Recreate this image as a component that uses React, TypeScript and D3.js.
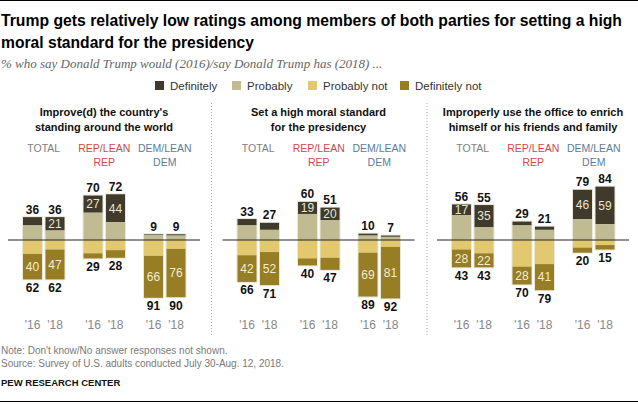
import React from "react";
import * as d3 from "d3";

// Panels (questions), groups and years
const panelTitles = [
  ["Improve(d) the country's", "standing around the world"],
  ["Set a high moral standard", "for the presidency"],
  ["Improperly use the office to enrich", "himself or his friends and family"],
];
const groupLabels = [["TOTAL"], ["REP/LEAN", "REP"], ["DEM/LEAN", "DEM"]];
const groupColors = ["#808080", "#d0474c", "#5d7c9c"];
const years = ["'16", "'18"];

// values: panel -> group -> year (18 bars)
const definitely = [13, 21, 27, 44, 1, 2, 10, 11, 19, 20, 3, 2, 17, 35, 6, 5, 46, 59];
const probably = [23, 15, 43, 28, 8, 7, 23, 16, 41, 31, 7, 5, 39, 20, 23, 16, 33, 25];
const probablyNot = [22, 15, 21, 16, 25, 14, 24, 19, 29, 28, 20, 11, 15, 21, 42, 38, 12, 8];
const definitelyNot = [40, 47, 8, 12, 66, 76, 42, 52, 11, 19, 69, 81, 28, 22, 28, 41, 8, 7];
const totalYes = [36, 36, 70, 72, 9, 9, 33, 27, 60, 51, 10, 7, 56, 55, 29, 21, 79, 84];
const totalNo = [62, 62, 29, 28, 91, 90, 66, 71, 40, 47, 89, 92, 43, 43, 70, 79, 20, 15];
// labels printed inside the bars (null = not printed)
const innerTop = [null, 21, 27, 44, null, null, null, null, 19, 20, null, null, 17, 35, null, null, 46, 59];
const innerBottom = [40, 47, null, null, 66, 76, 42, 52, null, null, 69, 81, 28, 22, 28, 41, null, null];

const legendKeys = ["Definitely", "Probably", "Probably not", "Definitely not"];
const colors = ["#3f3a2b", "#c1bb93", "#e2c86e", "#977d24"];

const W = 638;
const H = 404;
const font = "'Liberation Sans', Arial, sans-serif";

export default function App() {
  const y = d3.scaleLinear().domain([-100, 100]).range([240 + 63.5, 240 - 63.5]);
  const panelX = d3.scaleBand<number>().domain([0, 1, 2]).range([23, 23 + 3 * 214.5]);
  const groupX = d3.scalePoint<number>().domain([0, 1, 2]).range([0, 121]);
  const yearX = d3.scalePoint<number>().domain([0, 1]).range([0, 22.5]);
  const bw = 19;

  const bars = d3.range(18).map((i) => {
    const p = Math.floor(i / 6);
    const g = Math.floor((i % 6) / 2);
    const yr = i % 2;
    const x = (panelX(p) as number) + (groupX(g) as number) + (yearX(yr) as number);
    return { i, p, g, yr, x };
  });

  return (
    <svg
      width={W}
      height={H}
      style={{ position: "absolute", left: 0, top: 0, background: "#fff" }}
      fontFamily={font}
    >
      <line x1={0} x2={W} y1={0.5} y2={0.5} stroke="#000" strokeWidth={1} />
      <text x={1} y={26} fontSize={15.2} fontWeight="bold" textLength={621} lengthAdjust="spacingAndGlyphs" transform="translate(0,26) scale(1,1.1) translate(0,-26)">
        Trump gets relatively low ratings among members of both parties for setting a high
      </text>
      <text x={1} y={48} fontSize={15.2} fontWeight="bold" textLength={253} lengthAdjust="spacingAndGlyphs" transform="translate(0,48) scale(1,1.1) translate(0,-48)">
        moral standard for the presidency
      </text>
      <text x={1} y={68} fontSize={13} fontStyle="italic" fill="#666" fontFamily="'Liberation Serif', serif">
        % who say Donald Trump would (2016)/say Donald Trump has (2018) ...
      </text>

      {/* legend */}
      {legendKeys.map((k, i) => {
        const lx = [155, 232, 308, 400][i];
        return (
          <g key={k}>
            <rect x={lx} y={81} width={9} height={9} fill={colors[i]} />
            <text x={lx + 15} y={90} fontSize={11.5} fill="#333">
              {k}
            </text>
          </g>
        );
      })}

      {/* separators */}
      {[211.5, 427].map((sx) => (
        <line key={sx} x1={sx} x2={sx} y1={103} y2={336} stroke="#aaa" strokeWidth={1} strokeDasharray="1,2" />
      ))}

      {/* panel titles, group labels */}
      {[0, 1, 2].map((p) => {
        const cx = (panelX(p) as number) + 81;
        return (
          <g key={p}>
            {panelTitles[p].map((t, j) => (
              <text key={j} x={cx} y={116 + j * 14.5} textAnchor="middle" fontSize={11} fontWeight="bold" fill="#111">
                {t}
              </text>
            ))}
            {groupLabels.map((gl, g) =>
              gl.map((t, j) => (
                <text
                  key={g + "-" + j}
                  x={(panelX(p) as number) + (groupX(g) as number) + 20.75}
                  y={152 + j * 14}
                  textAnchor="middle"
                  fontSize={10.5}
                  fill={groupColors[g]}
                >
                  {t}
                </text>
              ))
            )}
          </g>
        );
      })}

      {/* bars */}
      {bars.map(({ i, x }) => {
        const segs = [
          { v0: probably[i], v1: probably[i] + definitely[i], c: colors[0] },
          { v0: 0, v1: probably[i], c: colors[1] },
          { v0: -probablyNot[i], v1: 0, c: colors[2] },
          { v0: -probablyNot[i] - definitelyNot[i], v1: -probablyNot[i], c: colors[3] },
        ];
        const top = y(totalYes[i]);
        const bot = y(-totalNo[i]);
        const cx = x + bw / 2;
        return (
          <g key={i}>
            <rect x={x - 1} y={top - 1} width={bw + 2} height={bot - top + 2} fill="#e9e6da" />
            {segs.map((s, k) => (
              <rect key={k} x={x} y={y(s.v1)} width={bw} height={Math.max(0, y(s.v0) - y(s.v1))} fill={s.c} />
            ))}
            <text x={cx} y={top - 3.5} textAnchor="middle" fontSize={12} fontWeight="bold" fill="#111">
              {totalYes[i]}
            </text>
            <text x={cx} y={bot + 12.5} textAnchor="middle" fontSize={12} fontWeight="bold" fill="#111">
              {totalNo[i]}
            </text>
            {innerTop[i] !== null && (
              <text x={cx} y={(y(probably[i]) + y(probably[i] + definitely[i])) / 2 + 4.3} textAnchor="middle" fontSize={12} fill="#e8e4d4">
                {innerTop[i]}
              </text>
            )}
            {innerBottom[i] !== null && (
              <text
                x={cx}
                y={(y(-probablyNot[i]) + y(-probablyNot[i] - definitelyNot[i])) / 2 + 4.3}
                textAnchor="middle"
                fontSize={12}
                fill="#f3ecd2"
              >
                {innerBottom[i]}
              </text>
            )}
          </g>
        );
      })}

      {[0, 1, 2].map((p) => (
        <line key={p} x1={(panelX(p) as number) - 15} x2={(panelX(p) as number) + 177} y1={240} y2={240} stroke="#222" strokeWidth={1} />
      ))}

      {/* year labels */}
      {bars.map(({ i, x, yr }) => (
        <text key={"y" + i} x={x + bw / 2} y={329} textAnchor="middle" fontSize={12} fill="#888">
          {years[yr]}
        </text>
      ))}

      {/* footer */}
      <text x={1} y={354} fontSize={10} fill="#7a7a7a">
        Note: Don't know/No answer responses not shown.
      </text>
      <text x={1} y={367} fontSize={10} fill="#7a7a7a">
        Source: Survey of U.S. adults conducted July 30-Aug. 12, 2018.
      </text>
      <text x={1} y={386} fontSize={9.5} fontWeight="bold" fill="#111">
        PEW RESEARCH CENTER
      </text>
      <line x1={0} x2={W} y1={401.5} y2={401.5} stroke="#000" strokeWidth={1} />
    </svg>
  );
}
